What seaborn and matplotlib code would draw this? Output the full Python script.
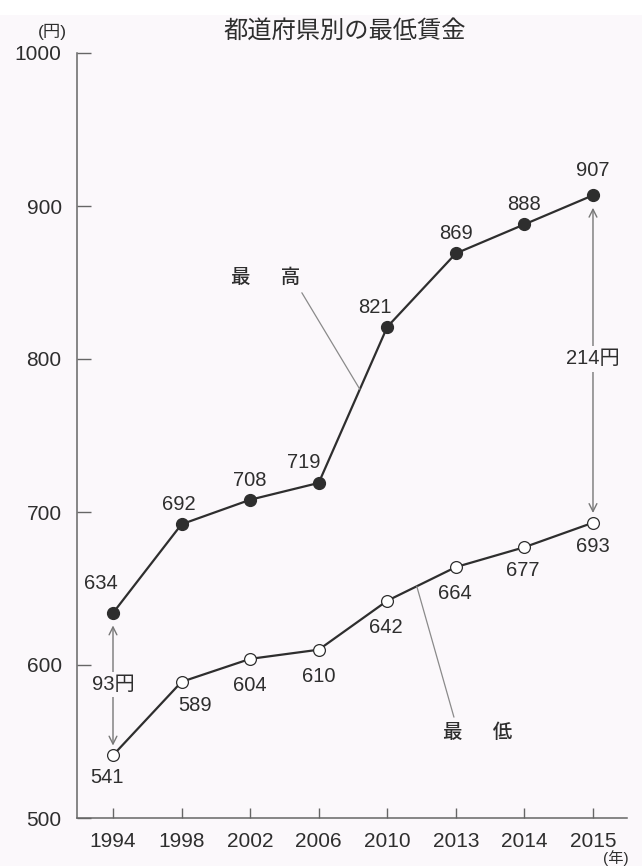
import numpy as np
import pandas as pd
import matplotlib
matplotlib.use("Agg")
import matplotlib.pyplot as plt
from matplotlib.patches import Rectangle
import seaborn as sns

# Minimum wage by prefecture: highest and lowest (yen)
years = ["1994", "1998", "2002", "2006", "2010", "2013", "2014", "2015"]
wage_max = [634, 692, 708, 719, 821, 869, 888, 907]
wage_min = [541, 589, 604, 610, 642, 664, 677, 693]
y_ticks = [500, 600, 700, 800, 900, 1000]

# label offsets (points) for the value labels
max_offsets = [(-9, 21), (-2, 14), (0, 14), (-11, 15), (-9, 14), (0, 14), (0, 14), (0, 18)]
min_offsets = [(-4, -16), (10, -17), (0, -19), (0, -19), (-1, -19), (-1, -19), (-1, -17), (0, -17)]

sns.set_style("ticks")
plt.rcParams["font.family"] = ["Liberation Sans", "Noto Sans CJK JP", "DejaVu Sans"]

ink = "#2e2e2e"
bg = "#fbf8fb"

df = pd.DataFrame({
    "pos": np.arange(len(years)),
    "year": years,
    "max": wage_max,
    "min": wage_min,
})

fig = plt.figure(figsize=(6.42, 8.66), dpi=100, facecolor=bg)
fig.patches.append(Rectangle((0, 1 - 15 / 866), 1, 15 / 866, transform=fig.transFigure,
                             facecolor="white", edgecolor="none", zorder=-1))
ax = fig.add_axes([77 / 642, 1 - 818 / 866, 550 / 642, 765 / 866])
ax.set_facecolor(bg)

sns.lineplot(data=df, x="pos", y="max", ax=ax, color=ink, linewidth=1.6,
             marker="o", markersize=8.5, markerfacecolor=ink, markeredgecolor=ink,
             markeredgewidth=1.0, zorder=3)
sns.lineplot(data=df, x="pos", y="min", ax=ax, color=ink, linewidth=1.6,
             marker="o", markersize=8.5, markerfacecolor="white", markeredgecolor=ink,
             markeredgewidth=0.9, zorder=3)

label_kw = dict(textcoords="offset points", ha="center", va="center",
                fontsize=14.5, color=ink)
for i, v in enumerate(wage_max):
    ax.annotate(f"{v}", xy=(i, v), xytext=max_offsets[i], **label_kw)
for i, v in enumerate(wage_min):
    ax.annotate(f"{v}", xy=(i, v), xytext=min_offsets[i], **label_kw)

# gap arrows between highest and lowest
arrow_kw = dict(arrowstyle="<->", color="#777777", lw=1.0, mutation_scale=14)
for i in (0, len(years) - 1):
    gap = wage_max[i] - wage_min[i]
    ax.annotate("", xy=(i, wage_min[i]), xytext=(i, wage_max[i]),
                arrowprops=dict(shrinkA=9, shrinkB=7, **arrow_kw))
    ax.text(i, (wage_max[i] + wage_min[i]) / 2, f"{gap}円", ha="center", va="center",
            fontsize=14.5, color=ink,
            bbox=dict(boxstyle="square,pad=0.15", facecolor=bg, edgecolor="none"))

# series callouts
lead_kw = dict(arrowstyle="-", color="#8a8a8a", lw=0.9, shrinkA=2, shrinkB=0)
t = 0.6
ax.annotate("最\u3000  高", xy=(3 + t, wage_max[3] + t * (wage_max[4] - wage_max[3])),
            xytext=(2.23, 853), ha="center", va="center", fontsize=14, color=ink,
            fontweight="medium",
            arrowprops=dict(relpos=(0.97, 0.0), **lead_kw))
t = 0.43
ax.annotate("最\u3000  低", xy=(4 + t, wage_min[4] + t * (wage_min[5] - wage_min[4])),
            xytext=(5.32, 556), ha="center", va="center", fontsize=14, color=ink,
            fontweight="medium",
            arrowprops=dict(relpos=(0.18, 1.0), **lead_kw))

ax.set_xlim(-0.525, 7.496)
ax.set_ylim(500, 1000)
ax.set_xticks(df["pos"], years)
ax.set_yticks(y_ticks, [str(v) for v in y_ticks])
ax.set_xlabel("")
ax.set_ylabel("")

for side in ("top", "right"):
    ax.spines[side].set_visible(False)
for side in ("left", "bottom"):
    ax.spines[side].set_color("#666666")
    ax.spines[side].set_linewidth(1.1)

ax.tick_params(axis="y", direction="in", length=10, width=1.0, color="#666666",
               labelsize=15, labelcolor=ink, pad=11)
ax.tick_params(axis="x", direction="in", length=7, width=1.0, color="#666666",
               labelsize=15, labelcolor=ink, pad=10)

fig.text(345 / 642, 1 - 31 / 866, "都道府県別の最低賃金", ha="center", va="center",
         fontsize=17.5, color=ink, family=["Noto Sans CJK JP"])
fig.text(52 / 642, 1 - 32 / 866, "(円)", ha="center", va="center", fontsize=12.5, color=ink)
fig.text(616 / 642, 1 - 858 / 866, "(年)", ha="center", va="center", fontsize=11, color=ink)

fig.savefig("out.png", dpi=100, facecolor=bg)
